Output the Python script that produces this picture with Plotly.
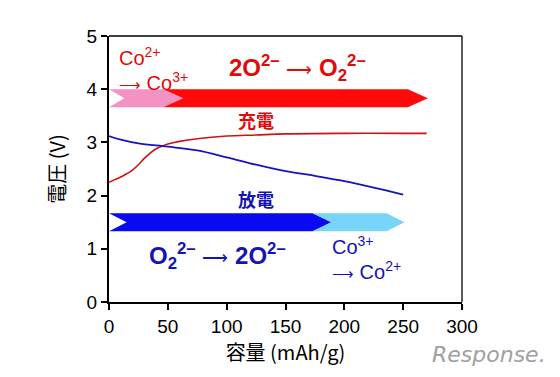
import plotly.graph_objects as go

# Charge curve (red)
charge_cap = [0, 5, 10, 15, 20, 25, 30, 35, 40, 45, 50, 60, 75, 100, 125, 150, 200, 250, 270]
charge_v = [2.25, 2.3, 2.35, 2.41, 2.48, 2.58, 2.7, 2.8, 2.88, 2.93, 2.97, 3.02, 3.07, 3.12, 3.14, 3.16, 3.17, 3.17, 3.17]

# Discharge curve (blue)
dis_cap = [0, 10, 25, 50, 75, 100, 125, 150, 175, 200, 225, 250]
dis_v = [3.12, 3.05, 2.98, 2.92, 2.85, 2.72, 2.58, 2.46, 2.37, 2.27, 2.15, 2.02]

x_ticks = [0, 50, 100, 150, 200, 250, 300]
y_ticks = [0, 1, 2, 3, 4, 5]

# Process arrows: (start, end, notch, head, colour)
charge_arrow_y = 3.83
charge_arrow = [(0, 46, 13, 17, "#f592c4"), (46, 254, 17, 17, "#ff0a0a")]
dis_arrow_y = 1.5
dis_arrow = [(0, 173, 15, 16, "#0a0af0"), (173, 236, 16, 15, "#78d4f8")]
arrow_half = 0.17

fig = go.Figure()

def chevron(a, b, notch, head, c, hh):
    return (f"M {a},{c+hh} L {b},{c+hh} L {b+head},{c} L {b},{c-hh} "
            f"L {a},{c-hh} L {a+notch},{c} Z")

shapes = []
for a, b, n, h, col in charge_arrow:
    shapes.append(dict(type="path", xref="x", yref="y",
                       path=chevron(a, b, n, h, charge_arrow_y, arrow_half),
                       fillcolor=col, line=dict(width=0), layer="below"))
for a, b, n, h, col in dis_arrow:
    shapes.append(dict(type="path", xref="x", yref="y",
                       path=chevron(a, b, n, h, dis_arrow_y, arrow_half),
                       fillcolor=col, line=dict(width=0), layer="below"))
# top and right frame
shapes.append(dict(type="line", xref="paper", yref="paper", x0=0, x1=1, y0=1, y1=1,
                   line=dict(color="black", width=1.3)))
shapes.append(dict(type="line", xref="paper", yref="paper", x0=1, x1=1, y0=0, y1=1,
                   line=dict(color="black", width=1.3)))

fig.add_trace(go.Scatter(x=charge_cap, y=charge_v, mode="lines",
                         line=dict(color="#c81414", width=1.6, shape="spline"),
                         hoverinfo="skip"))
fig.add_trace(go.Scatter(x=dis_cap, y=dis_v, mode="lines",
                         line=dict(color="#1414c0", width=1.8, shape="spline"),
                         hoverinfo="skip"))

F = "Liberation Sans, Arial, sans-serif"
CJK = "Noto Sans CJK JP, sans-serif"
red_t = "#e00a0a"
blue_t = "#1414b4"

small_arr = '<span style="font-size:15px">⟶</span>'
big_arr = '<span style="font-size:18px;font-weight:normal">⟶</span>'

ann = [
    dict(x=6.5, y=4.62, text="Co<sup>2+</sup>", font=dict(size=20, color=red_t, family=F), xanchor="left"),
    dict(x=6.5, y=4.15, text=small_arr + " Co<sup>3+</sup>", font=dict(size=20, color=red_t, family=F), xanchor="left"),
    dict(x=160, y=4.4, text="<b>2O<sup>2–</sup></b> " + big_arr + " <b>O<sub>2</sub><sup>2–</sup></b>", font=dict(size=24, color=red_t, family=F)),
    dict(x=125, y=3.42, text="<b>充電</b>", font=dict(size=18, color=red_t, family=CJK), xanchor="center"),
    dict(x=125, y=1.94, text="<b>放電</b>", font=dict(size=18, color=blue_t, family=CJK), xanchor="center"),
    dict(x=92.6, y=0.86, text="<b>O<sub>2</sub><sup>2–</sup></b> " + big_arr + " <b>2O<sup>2–</sup></b>", font=dict(size=24, color=blue_t, family=F)),
    dict(x=188, y=1.07, text="Co<sup>3+</sup>", font=dict(size=20, color=blue_t, family=F), xanchor="left"),
    dict(x=188, y=0.6, text=small_arr + " Co<sup>2+</sup>", font=dict(size=20, color=blue_t, family=F), xanchor="left"),
]
for a in ann:
    a.update(xref="x", yref="y", showarrow=False)
    a.setdefault("xanchor", "center")
ann.append(dict(xref="paper", yref="paper", x=1.2436, y=-0.199, text="<i>Response.</i>",
                showarrow=False, xanchor="right", yanchor="middle",
                font=dict(size=22, color="#a0a0a0", family="DejaVu Sans, sans-serif")))

fig.update_layout(
    width=560, height=377,
    margin=dict(l=101, r=106, t=28, b=83),
    paper_bgcolor="white", plot_bgcolor="white",
    showlegend=False,
    shapes=shapes, annotations=ann,
    xaxis=dict(range=[0, 300], tickvals=x_ticks, showline=True, linecolor="black",
               linewidth=2, ticks="outside", ticklen=6, tickwidth=1.5, tickcolor="black",
               showgrid=False, zeroline=False,
               tickfont=dict(size=19, family=F, color="black"),
               title=dict(text="容量 (mAh/g)", font=dict(size=20, family=CJK, color="black"), standoff=2)),
    yaxis=dict(range=[0, 5], tickvals=y_ticks, showline=True, linecolor="black",
               linewidth=2, ticks="outside", ticklen=6, tickwidth=1.5, tickcolor="black",
               showgrid=False, zeroline=False,
               tickfont=dict(size=19, family=F, color="black"),
               title=dict(text="電圧 (V)", font=dict(size=20, family=CJK, color="black"), standoff=16)),
)

fig.write_html("out.html")
